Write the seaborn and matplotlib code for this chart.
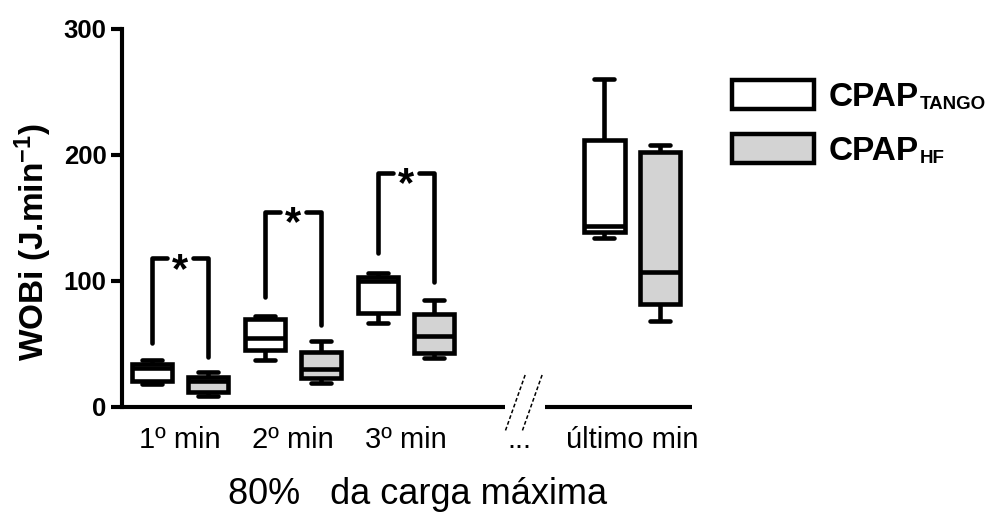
import numpy as np
import pandas as pd
import matplotlib
matplotlib.use("Agg")
import matplotlib.pyplot as plt
import seaborn as sns
from matplotlib.patches import Patch

# ---- data (five-number summaries) ----
categories = ["1º min", "2º min", "3º min", "...", "último min"]
data_categories = ["1º min", "2º min", "3º min", "último min"]
groups = ["TANGO", "HF"]
tango_values = [
    [18, 21, 31, 34, 37],
    [37, 45, 55, 70, 72],
    [67, 75, 100, 103, 106],
    [134, 139, 144, 212, 260],
]
hf_values = [
    [9, 12, 21, 24, 28],
    [19, 23, 30, 44, 52],
    [39, 43, 56, 74, 85],
    [68, 82, 107, 202, 208],
]
sig_categories = ["1º min", "2º min", "3º min"]
sig_top = [118, 155, 186]
sig_left_bottom = [51, 87, 122]
sig_right_bottom = [40, 65, 99]
y_ticks = [0, 100, 200, 300]
legend_main = ["CPAP", "CPAP"]
legend_sub = ["TANGO", "HF"]
fill_colors = {"TANGO": "white", "HF": "#d3d3d3"}

rows = []
for cat, tv, hv in zip(data_categories, tango_values, hf_values):
    for v in tv:
        rows.append({"cat": cat, "grp": "TANGO", "val": v})
    for v in hv:
        rows.append({"cat": cat, "grp": "HF", "val": v})
df = pd.DataFrame(rows)

sns.set_style("white")
plt.rcParams["font.family"] = ["Liberation Sans", "DejaVu Sans"]
plt.rcParams["mathtext.fontset"] = "custom"
plt.rcParams["mathtext.rm"] = "Liberation Sans"
plt.rcParams["mathtext.bf"] = "Liberation Sans:bold"
plt.rcParams["mathtext.it"] = "Liberation Sans:italic"
for k in ["text.color", "axes.labelcolor", "xtick.color", "ytick.color"]:
    plt.rcParams[k] = "black"

fig = plt.figure(figsize=(10.03, 5.15), dpi=100)
ax = fig.add_axes([122 / 1003, 1 - 407 / 515, 570 / 1003, 378 / 515])

LW = 3.3
sns.boxplot(
    data=df, x="cat", y="val", hue="grp", order=categories, hue_order=groups,
    palette=fill_colors, whis=(0, 100), width=0.99, gap=0.27, linecolor="black",
    linewidth=LW, legend=False, ax=ax, fliersize=0,
)

ax.set_xlim(-0.513, 4.53)
ax.set_ylim(0, 300)
ax.set_yticks(y_ticks)
for lab in ax.get_yticklabels():
    lab.set_fontweight("bold")
ax.tick_params(axis="y", direction="out", length=8, width=LW * 0.9, labelsize=18.5, pad=3, left=True)
ax.tick_params(axis="x", length=0, labelsize=21, pad=14)

for s in ["top", "right", "bottom"]:
    ax.spines[s].set_visible(False)
ax.spines["left"].set_linewidth(LW * 0.9)
ax.spines["left"].set_color("black")

# broken x axis
tr = ax.get_xaxis_transform()
brk_a, brk_b = 2.876, 3.23
ax.plot([-0.513, brk_a], [0, 0], color="black", lw=LW * 0.9, transform=tr, clip_on=False, solid_capstyle="butt")
ax.plot([brk_b, 4.53], [0, 0], color="black", lw=LW * 0.9, transform=tr, clip_on=False, solid_capstyle="butt")
for dx in (0.0, 0.15):
    ax.plot([2.88 + dx, 3.06 + dx], [-0.062, 0.09], color="black", lw=1.1, ls=(0, (2.5, 1.5)),
            transform=tr, clip_on=False)

# significance brackets
half = 0.25
gap = 0.115
for cat, top, lb, rb in zip(sig_categories, sig_top, sig_left_bottom, sig_right_bottom):
    c = categories.index(cat)
    xl, xr = c - half, c + half
    ax.plot([xl, xl, c - gap], [lb, top, top], color="black", lw=LW, solid_joinstyle="round")
    ax.plot([c + gap, xr, xr], [top, top, rb], color="black", lw=LW, solid_joinstyle="round")
    ax.annotate("*", xy=(c, top), xytext=(0, -17), textcoords="offset points",
                ha="center", va="baseline", fontsize=30, fontweight="bold")

ax.set_ylabel(r"WOBi (J.min$^{\mathbf{-1}}$)", fontsize=24, fontweight="bold")
ax.yaxis.set_label_coords(-0.12, 0.437)
ax.set_xlabel("80%   da carga máxima", fontsize=26)
ax.xaxis.set_label_coords(0.519, -0.185)

handles = [Patch(facecolor=fill_colors[g], edgecolor="black", linewidth=3.2) for g in groups]
leg = fig.legend(handles, legend_main, loc="upper left", bbox_to_anchor=(732 / 1003, 1 - 80 / 515),
                 frameon=False, borderpad=0, borderaxespad=0, handlelength=2.45, handleheight=0.95,
                 labelspacing=0.65, handletextpad=0.45, prop={"size": 24, "weight": "bold"})
fig.canvas.draw()
for t, sub in zip(leg.get_texts(), legend_sub):
    fig.add_artist(matplotlib.text.Annotation(
        sub, xy=(1, 0), xycoords=t, xytext=(0.5, 3), textcoords="offset points",
        ha="left", va="baseline", fontsize=13.5, fontweight="bold", annotation_clip=False))

fig.savefig("out.png", dpi=100)
